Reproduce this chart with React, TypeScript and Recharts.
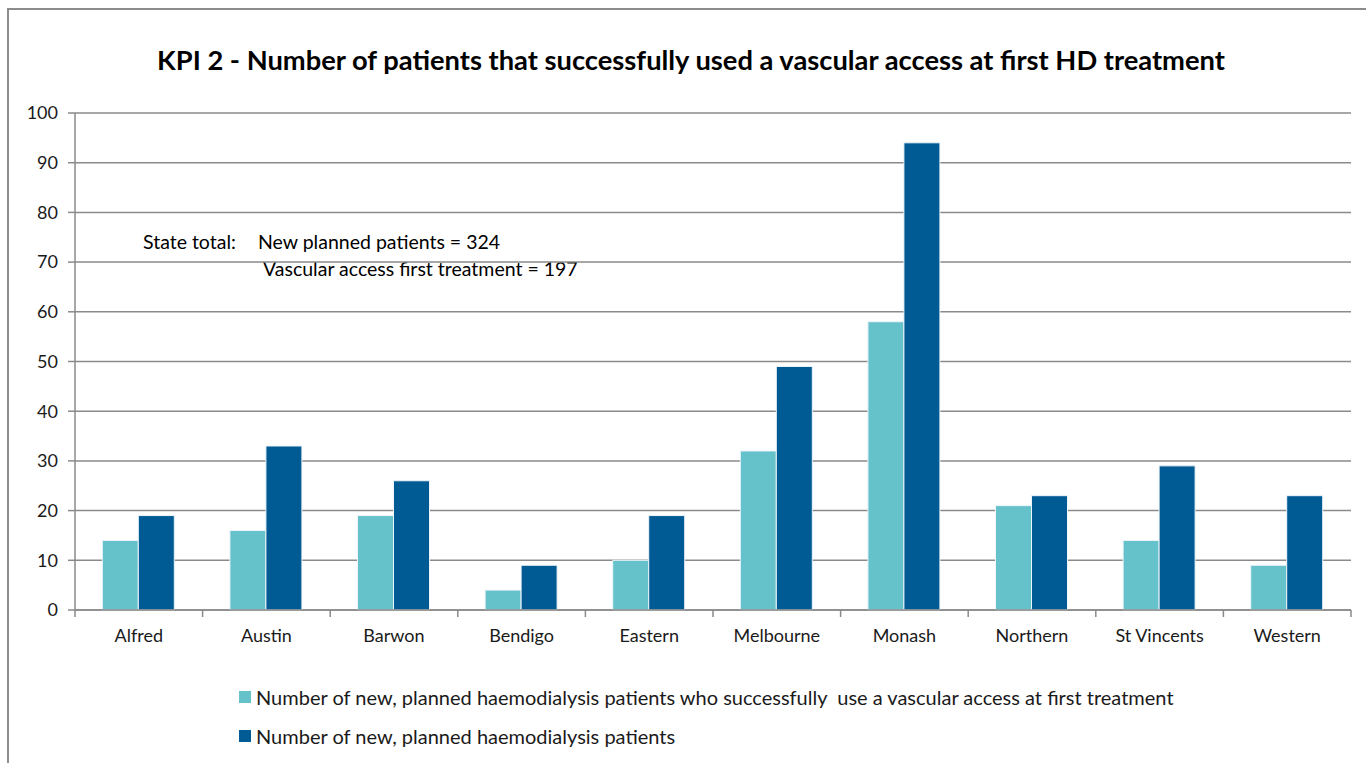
import { BarChart, Bar, XAxis, YAxis, CartesianGrid } from 'recharts';

const categories = ['Alfred', 'Austin', 'Barwon', 'Bendigo', 'Eastern', 'Melbourne', 'Monash', 'Northern', 'St Vincents', 'Western'];
const successValues = [14, 16, 19, 4, 10, 32, 58, 21, 14, 9];
const plannedValues = [19, 33, 26, 9, 19, 49, 94, 23, 29, 23];
const yTicks = [0, 10, 20, 30, 40, 50, 60, 70, 80, 90, 100];

const SERIES = [
  { key: 'success', label: 'Number of new, planned haemodialysis patients who successfully  use a vascular access at first treatment', color: '#66C2CA' },
  { key: 'planned', label: 'Number of new, planned haemodialysis patients', color: '#005A93' },
];

const FONT = 'Lato, "Open Sans", sans-serif';
const GRID = '#8a8a8a';
const TEXT = '#1a1a1a';

const data = categories.map((name, i) => ({ name, success: successValues[i], planned: plannedValues[i] }));

// category label plus tick marks on the band edges (like Excel)
function CatTick(props: any) {
  const { x, y, payload, index, width, visibleTicksCount } = props;
  const half = width / visibleTicksCount / 2;
  const axisY = y - 19;
  return (
    <g>
      <line x1={x - half} x2={x - half} y1={axisY} y2={axisY + 7} stroke={GRID} strokeWidth={1.5} />
      {index === visibleTicksCount - 1 && (
        <line x1={x + half} x2={x + half} y1={axisY} y2={axisY + 7} stroke={GRID} strokeWidth={1.5} />
      )}
      <text x={x} y={y} dy="0.71em" textAnchor="middle" fontFamily={FONT} fontSize={18} fill={TEXT}>
        {payload.value}
      </text>
    </g>
  );
}

const noteStyle = { position: 'absolute' as const, fontFamily: FONT, fontSize: 19.5, color: '#000', whiteSpace: 'pre' as const };

export default function App() {
  return (
    <div style={{ position: 'absolute', left: 0, top: 0, width: 1366, height: 763, overflow: 'hidden', background: '#fff' }}>
      <div style={{ position: 'absolute', left: 7, top: 8, width: 1400, height: 800, border: '2px solid #8c8c8c' }} />
      <div style={{ position: 'absolute', left: 0, top: 43, width: 1382, textAlign: 'center', fontFamily: FONT, fontWeight: 'bold', fontSize: 27.3, color: '#000' }}>
        KPI 2 - Number of patients that successfully used a vascular access at first HD treatment
      </div>
      <div style={{ ...noteStyle, left: 143, top: 230 }}>State total:</div>
      <div style={{ ...noteStyle, left: 258, top: 230 }}>New planned patients = 324</div>
      <div style={{ ...noteStyle, left: 263, top: 257 }}>Vascular access first treatment = 197</div>
      <BarChart
        width={1366}
        height={763}
        data={data}
        margin={{ top: 113, right: 15, bottom: 103, left: 0 }}
        barCategoryGap="21.4%"
        barGap={0}
        style={{ position: 'absolute', left: 0, top: 0 }}
      >
        <CartesianGrid vertical={false} stroke={GRID} strokeWidth={1.5} />
        <XAxis
          dataKey="name"
          height={50}
          interval={0}
          tickLine={false}
          tickSize={0}
          tickMargin={19}
          axisLine={{ stroke: GRID, strokeWidth: 1.5 }}
          tick={<CatTick />}
        />
        <YAxis
          width={75}
          domain={[0, 100]}
          ticks={yTicks}
          interval={0}
          tickSize={7}
          tickMargin={10}
          axisLine={{ stroke: GRID, strokeWidth: 1.5 }}
          tickLine={{ stroke: GRID, strokeWidth: 1.5 }}
          tick={{ fontFamily: FONT, fontSize: 18, fill: TEXT }}
        />
        {SERIES.map(s => (
          <Bar
            key={s.key}
            dataKey={s.key}
            name={s.label}
            fill={s.color}
            stroke="#eef5fa"
            strokeWidth={1}
            isAnimationActive={false}
          />
        ))}
      </BarChart>
      <div style={{ position: 'absolute', left: 239, top: 677, fontFamily: FONT, fontSize: 20, color: TEXT }}>
        {SERIES.map(s => (
          <div key={s.key} style={{ display: 'flex', alignItems: 'center', height: 39 }}>
            <span style={{ width: 12, height: 12, background: s.color, marginRight: 5, display: 'inline-block' }} />
            <span style={{ whiteSpace: 'pre' }}>{s.label}</span>
          </div>
        ))}
      </div>
    </div>
  );
}
